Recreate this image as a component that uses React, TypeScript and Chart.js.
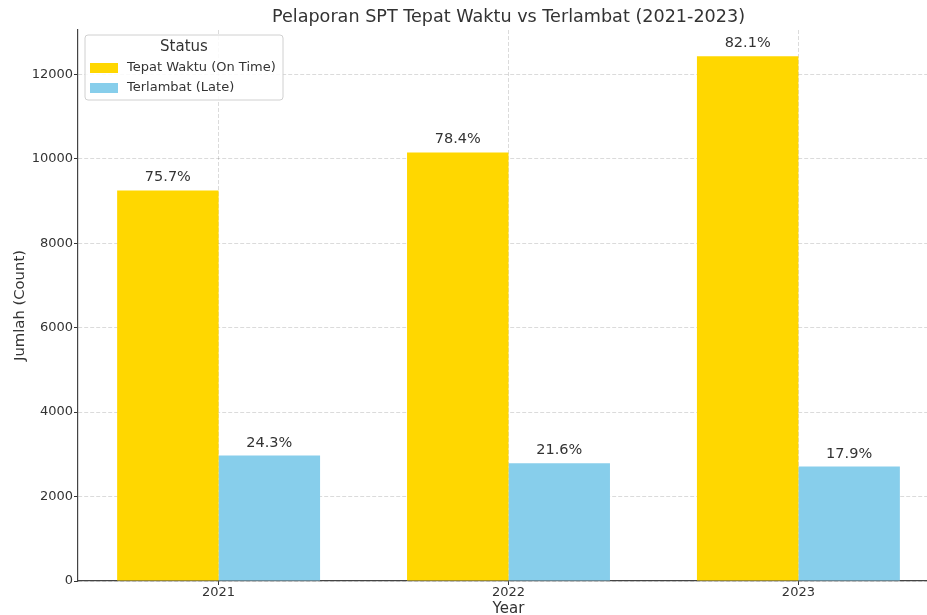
import React, { useEffect, useRef } from "react";
import { Chart, registerables } from "chart.js";
Chart.register(...registerables);

const years = ["2021", "2022", "2023"];
const onTime = [9250, 10150, 12430];
const late = [2970, 2790, 2710];
const yTicks = [0, 2000, 4000, 6000, 8000, 10000, 12000];
const seriesLabels = ["Tepat Waktu (On Time)", "Terlambat (Late)"];
const seriesColors = ["#FFD700", "#87CEEB"];
const legendTitle = "Status";
const chartTitle = "Pelaporan SPT Tepat Waktu vs Terlambat (2021-2023)";
const xTitle = "Year";
const yTitle = "Jumlah (Count)";

const FONT = "'DejaVu Sans', sans-serif";
const TEXT = "#333333";
const W = 960;
const H = 615;

export default function App() {
  const ref = useRef<HTMLCanvasElement | null>(null);

  useEffect(() => {
    const canvas = ref.current;
    if (!canvas) return;

    const overlay = {
      id: "overlay",
      afterDatasetsDraw(chart: any) {
        const ctx = chart.ctx;
        const area = chart.chartArea;
        ctx.save();
        // value labels
        ctx.fillStyle = TEXT;
        ctx.font = `14.5px ${FONT}`;
        ctx.textAlign = "center";
        ctx.textBaseline = "alphabetic";
        chart.data.datasets.forEach((ds: any, di: number) => {
          const meta = chart.getDatasetMeta(di);
          meta.data.forEach((el: any, j: number) => {
            const total = onTime[j] + late[j];
            const v = di === 0 ? onTime[j] : late[j];
            const pct = ((v / total) * 100).toFixed(1) + "%";
            ctx.fillText(pct, el.x, el.y - 9);
          });
        });

        // title
        ctx.font = `17.6px ${FONT}`;
        ctx.fillText(chartTitle, (area.left + area.right) / 2, 22);

        // x title
        ctx.font = `15px ${FONT}`;
        ctx.fillText(xTitle, (area.left + area.right) / 2, 613);

        // y title
        ctx.save();
        ctx.translate(20, (area.top + area.bottom) / 2);
        ctx.rotate(-Math.PI / 2);
        ctx.textBaseline = "middle";
        ctx.font = `14.8px ${FONT}`;
        ctx.fillText(yTitle, 0, 0);
        ctx.restore();

        // legend
        const lx = 85, ly = 35, lw = 198, lh = 65, r = 3;
        ctx.beginPath();
        ctx.moveTo(lx + r, ly);
        ctx.lineTo(lx + lw - r, ly);
        ctx.quadraticCurveTo(lx + lw, ly, lx + lw, ly + r);
        ctx.lineTo(lx + lw, ly + lh - r);
        ctx.quadraticCurveTo(lx + lw, ly + lh, lx + lw - r, ly + lh);
        ctx.lineTo(lx + r, ly + lh);
        ctx.quadraticCurveTo(lx, ly + lh, lx, ly + lh - r);
        ctx.lineTo(lx, ly + r);
        ctx.quadraticCurveTo(lx, ly, lx + r, ly);
        ctx.closePath();
        ctx.fillStyle = "rgba(255,255,255,0.85)";
        ctx.fill();
        ctx.strokeStyle = "#d0d0d0";
        ctx.lineWidth = 1;
        ctx.stroke();

        ctx.fillStyle = TEXT;
        ctx.font = `15px ${FONT}`;
        ctx.textAlign = "center";
        ctx.textBaseline = "middle";
        ctx.fillText(legendTitle, lx + lw / 2, 47);

        ctx.font = `13px ${FONT}`;
        ctx.textAlign = "left";
        seriesLabels.forEach((lab, i) => {
          const yy = 68 + i * 20;
          ctx.fillStyle = seriesColors[i];
          ctx.fillRect(90, yy - 5, 28, 10);
          ctx.fillStyle = TEXT;
          ctx.fillText(lab, 127, yy);
        });
        ctx.restore();
      },
    };

    const chart = new Chart(canvas, {
      type: "bar",
      data: {
        datasets: [
          {
            label: seriesLabels[0],
            data: onTime.map((v, i) => ({ x: i, y: v })),
            backgroundColor: seriesColors[0],
            borderWidth: 0,
          },
          {
            label: seriesLabels[1],
            data: late.map((v, i) => ({ x: i, y: v })),
            backgroundColor: seriesColors[1],
            borderWidth: 0,
          },
        ],
      },
      options: {
        responsive: false,
        animation: false,
        layout: { padding: { top: 30, right: W - 939, left: 0, bottom: 0 } },
        datasets: { bar: { categoryPercentage: 0.7, barPercentage: 1 } } as any,
        plugins: {
          legend: { display: false },
          title: { display: false },
          tooltip: { enabled: false },
        },
        scales: {
          x: {
            type: "linear",
            min: -0.485,
            max: 2.485,
            offset: false,
            afterBuildTicks: (s: any) => {
              s.ticks = years.map((_, i) => ({ value: i }));
            },
            afterFit: (s: any) => {
              s.height = H - 581;
            },
            ticks: {
              callback: (v: any) => years[v as number] ?? "",
              font: { family: FONT, size: 13 },
              color: TEXT,
              padding: 0,
              autoSkip: false,
              maxRotation: 0,
            },
            grid: {
              offset: false,
              color: "rgba(0,0,0,0.18)",
              lineWidth: 0.8,
              tickColor: "#333",
              tickLength: 4,
              tickWidth: 1,
            },
            border: { color: "#444", width: 1.2, dash: [4, 2] },
          } as any,
          y: {
            min: 0,
            max: 13050,
            afterBuildTicks: (s: any) => {
              s.ticks = yTicks.map((v) => ({ value: v }));
            },
            afterFit: (s: any) => {
              s.width = 78;
            },
            ticks: {
              font: { family: FONT, size: 13 },
              color: TEXT,
              padding: 1,
              callback: (v: any) => String(v),
            },
            grid: {
              color: "rgba(0,0,0,0.18)",
              lineWidth: 0.8,
              tickColor: "#333",
              tickLength: 4,
              tickWidth: 1,
            },
            border: { color: "#444", width: 1.2, dash: [4, 2] },
          } as any,
        },
      },
      plugins: [overlay],
    });

    return () => chart.destroy();
  }, []);

  return (
    <div
      style={{
        position: "fixed",
        left: 0,
        top: 0,
        width: W,
        height: H,
        background: "#fff",
      }}
    >
      <canvas ref={ref} width={W} height={H} style={{ width: W, height: H, display: "block" }} />
    </div>
  );
}
